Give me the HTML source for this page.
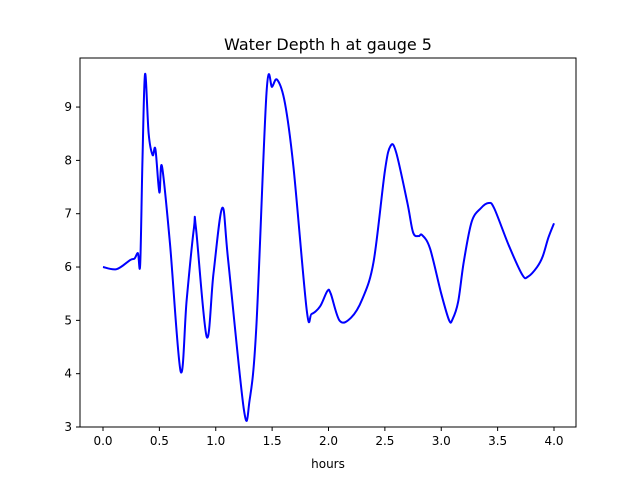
<!DOCTYPE html>
<html><head><meta charset="utf-8"><style>
html,body{margin:0;padding:0;background:#fff}
svg text{font-family:"DejaVu Sans","Liberation Sans",sans-serif;fill:#000}
</style></head><body>
<svg id="chart" width="640" height="480" viewBox="0 0 640 480">
<rect x="0" y="0" width="640" height="480" fill="#fff"/>
<text x="328" y="50" text-anchor="middle" font-size="16">Water Depth h at gauge 5</text>
<g id="plot"></g>
<rect x="80" y="58" width="496" height="369" fill="none" stroke="#000" stroke-width="1"/>
<text x="328" y="468" text-anchor="middle" font-size="12">hours</text>
</svg>
<script>
const xTicks=[0,0.5,1,1.5,2,2.5,3,3.5,4];
const xTickLabels=["0.0","0.5","1.0","1.5","2.0","2.5","3.0","3.5","4.0"];
const yTicks=[3,4,5,6,7,8,9];
const yTickLabels=["3","4","5","6","7","8","9"];
const hours=[0,0.12,0.24,0.28,0.31,0.33,0.35,0.373,0.405,0.44,0.465,0.5,0.523,0.594,0.689,0.742,0.807,0.825,0.92,0.98,1.058,1.11,1.25,1.30,1.36,1.45,1.50,1.546,1.614,1.69,1.807,1.85,1.925,1.99,2.02,2.10,2.2,2.3,2.4,2.5,2.55,2.6,2.7,2.75,2.8,2.83,2.9,3.0,3.07,3.1,3.15,3.2,3.27,3.35,3.42,3.47,3.6,3.72,3.77,3.85,3.9,3.95,4.0];
const depth=[6.0,5.96,6.13,6.16,6.26,6.06,8.0,9.62,8.5,8.1,8.21,7.4,7.89,6.44,4.04,5.38,6.74,6.72,4.69,5.88,7.11,6.13,3.32,3.5,4.88,9.26,9.38,9.51,9.07,7.86,5.19,5.12,5.26,5.55,5.5,4.99,5.05,5.4,6.1,7.8,8.27,8.15,7.2,6.65,6.58,6.6,6.35,5.5,5.0,5.02,5.35,6.1,6.85,7.1,7.2,7.1,6.4,5.85,5.82,6.0,6.2,6.55,6.82];
const NS="http://www.w3.org/2000/svg";
const X0=80,X1=576,Y0=58,Y1=427;
const xMin=-0.2,xMax=4.2,yMin=3,yMax=9.92;
function sx(v){return 103+(v-0)*112.75;}
function sy(v){return Y1-(v-yMin)*(Y1-Y0)/(yMax-yMin);}
const g=document.getElementById('plot');
xTicks.forEach((t,i)=>{
  const l=document.createElementNS(NS,'line');
  l.setAttribute('x1',sx(t));l.setAttribute('x2',sx(t));l.setAttribute('y1',Y1);l.setAttribute('y2',Y1+4);l.setAttribute('stroke','#000');
  
  
  g.appendChild(l);
  const tx=document.createElementNS(NS,'text');
  tx.setAttribute('x',sx(t));tx.setAttribute('y',Y1+18);tx.setAttribute('text-anchor','middle');tx.setAttribute('font-size','12');
  tx.textContent=xTickLabels[i];
  
  
  g.appendChild(tx);
});
yTicks.forEach((t,i)=>{
  const l=document.createElementNS(NS,'line');
  l.setAttribute('x1',X0-4);l.setAttribute('x2',X0);l.setAttribute('y1',sy(t));l.setAttribute('y2',sy(t));l.setAttribute('stroke','#000');
  
  
  g.appendChild(l);
  const tx=document.createElementNS(NS,'text');
  tx.setAttribute('x',X0-8);tx.setAttribute('y',sy(t)+4);tx.setAttribute('text-anchor','end');tx.setAttribute('font-size','12');
  tx.textContent=yTickLabels[i];
  
  
  g.appendChild(tx);
});
const P=hours.map((h,i)=>[sx(h),sy(depth[i])]);
let d='M'+P[0][0]+','+P[0][1];
for(let i=0;i<P.length-1;i++){
  const p0=P[i>0?i-1:i],p1=P[i],p2=P[i+1],p3=P[i+2<P.length?i+2:i+1];
  const k=1/6;
  d+=' C'+(p1[0]+(p2[0]-p0[0])*k)+','+(p1[1]+(p2[1]-p0[1])*k)+' '+(p2[0]-(p3[0]-p1[0])*k)+','+(p2[1]-(p3[1]-p1[1])*k)+' '+p2[0]+','+p2[1];
}
const path=document.createElementNS(NS,'path');
path.setAttribute('d',d);path.setAttribute('fill','none');path.setAttribute('stroke','#0000ff');path.setAttribute('stroke-width','2');path.setAttribute('stroke-linejoin','round');


g.appendChild(path);
</script>
</body></html>
